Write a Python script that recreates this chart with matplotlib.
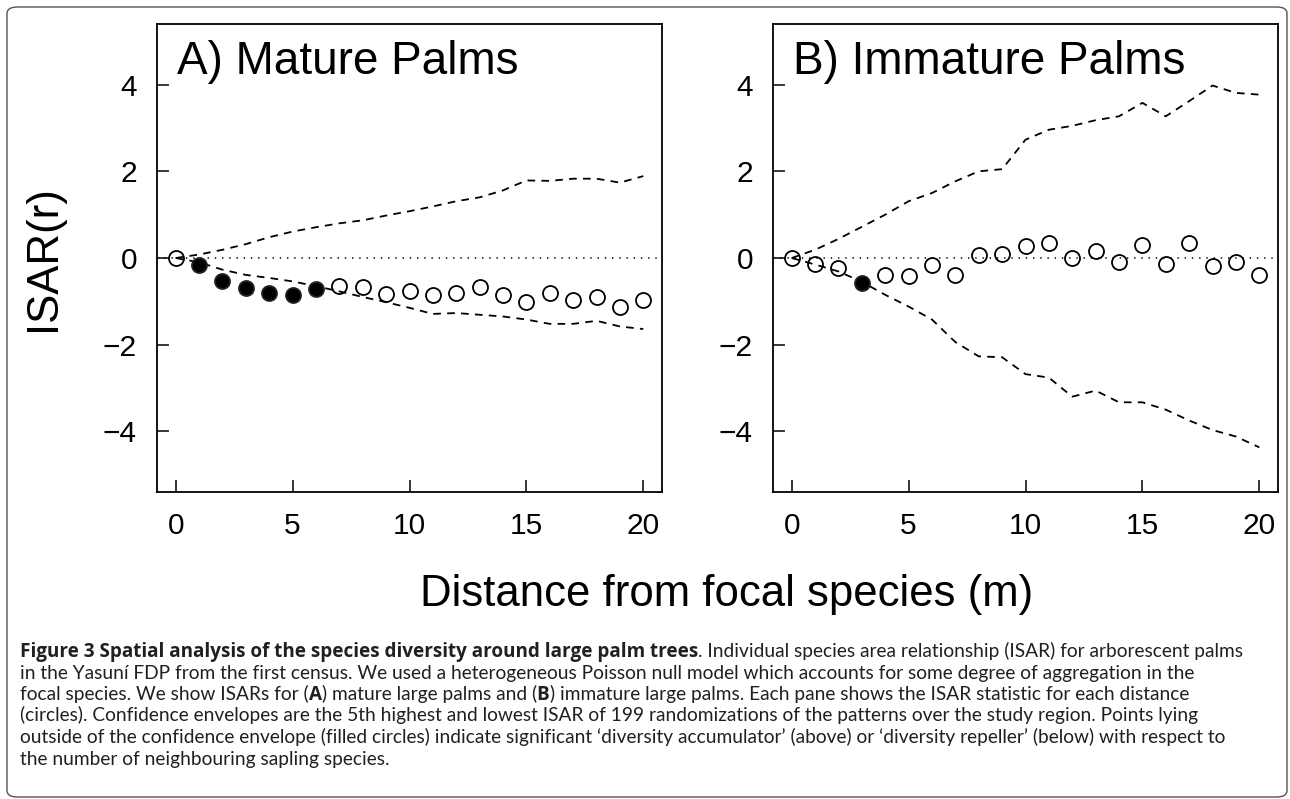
import matplotlib
matplotlib.use('Agg')
import matplotlib.pyplot as plt
from matplotlib import font_manager
from matplotlib.patches import FancyBboxPatch

# ---------------- data ----------------
distance = list(range(21))

mature_isar = [0.0, -0.155, -0.54, -0.69, -0.81, -0.86, -0.72, -0.65, -0.67, -0.83, -0.77,
               -0.85, -0.81, -0.68, -0.85, -1.02, -0.81, -0.98, -0.89, -1.12, -0.96]
mature_sig = [0, 1, 1, 1, 1, 1, 1, 0, 0, 0, 0, 0, 0, 0, 0, 0, 0, 0, 0, 0, 0]
mature_hi = [0.0, 0.08, 0.19, 0.32, 0.48, 0.61, 0.71, 0.80, 0.87, 0.98, 1.08,
             1.19, 1.31, 1.40, 1.56, 1.79, 1.78, 1.83, 1.83, 1.74, 1.89]
mature_lo = [0.0, -0.10, -0.27, -0.39, -0.46, -0.54, -0.65, -0.77, -0.90, -1.02, -1.15,
             -1.29, -1.27, -1.31, -1.35, -1.42, -1.52, -1.52, -1.45, -1.58, -1.64]

immature_isar = [0.0, -0.13, -0.23, -0.58, -0.40, -0.42, -0.17, -0.385, 0.077, 0.10, 0.27,
                 0.35, 0.0, 0.15, -0.09, 0.31, -0.13, 0.35, -0.18, -0.10, -0.385]
immature_sig = [0, 0, 0, 1, 0, 0, 0, 0, 0, 0, 0, 0, 0, 0, 0, 0, 0, 0, 0, 0, 0]
immature_hi = [0.0, 0.19, 0.44, 0.72, 1.00, 1.31, 1.50, 1.77, 2.00, 2.05, 2.73,
               2.96, 3.05, 3.18, 3.27, 3.58, 3.27, 3.62, 3.98, 3.81, 3.77]
immature_lo = [0.0, -0.15, -0.31, -0.55, -0.85, -1.12, -1.42, -1.94, -2.27, -2.29, -2.68,
               -2.76, -3.20, -3.06, -3.33, -3.33, -3.50, -3.75, -3.97, -4.12, -4.37]

xticks = [0, 5, 10, 15, 20]
yticks = [-4, -2, 0, 2, 4]
ytick_labels = ['\u22124', '\u22122', '0', '2', '4']
panel_titles = ["A) Mature Palms", "B) Immature Palms"]
ylabel = "ISAR(r)"
xlabel = "Distance from focal species (m)"

caption_lines = [
    [("Figure 3 Spatial analysis of the species diversity around large palm trees", True),
     (". Individual species area relationship (ISAR) for arborescent palms", False)],
    [("in the Yasuní FDP from the first census. We used a heterogeneous Poisson null model which accounts for some degree of aggregation in the", False)],
    [("focal species. We show ISARs for (", False), ("A", True), (") mature large palms and (", False),
     ("B", True), (") immature large palms. Each pane shows the ISAR statistic for each distance", False)],
    [("(circles). Confidence envelopes are the 5th highest and lowest ISAR of 199 randomizations of the patterns over the study region. Points lying", False)],
    [("outside of the confidence envelope (filled circles) indicate significant \u2018diversity accumulator\u2019 (above) or \u2018diversity repeller\u2019 (below) with respect to", False)],
    [("the number of neighbouring sapling species.", False)],
]
# right end (px) of each caption line in the reference, used to size the caption font
caption_line_ends = [1277, 1213, 1178, 1143, 1272, 410]
caption_bold_end = 698  # end of the bold heading in line 1

# ---------------- figure ----------------
W, H = 1290, 799
DPI = 100
plt.rcParams['font.family'] = ['Liberation Sans', 'DejaVu Sans']
plt.rcParams['lines.scale_dashes'] = False
fig = plt.figure(figsize=(W / DPI, H / DPI), dpi=DPI)


def px_axes(left, top, right, bottom):
    return [left / W, 1 - bottom / H, (right - left) / W, (bottom - top) / H]


axes_px = [(157, 24, 662, 492), (773, 24, 1278, 492)]
datasets = [(mature_isar, mature_sig, mature_hi, mature_lo),
            (immature_isar, immature_sig, immature_hi, immature_lo)]

for i, (box, data, title) in enumerate(zip(axes_px, datasets, panel_titles)):
    isar, sig, hi, lo = data
    ax = fig.add_axes(px_axes(*box))
    ax.set_xlim(-0.8, 20.8)
    ax.set_ylim(-5.4, 5.4)
    ax.axhline(0, color='black', lw=1.1, dashes=(1.0, 4.2), zorder=1)
    ax.plot(distance, hi, color='black', lw=1.3, dashes=(5.5, 4.5), zorder=2)
    ax.plot(distance, lo, color='black', lw=1.3, dashes=(5.5, 4.5), zorder=2)
    xo = [d for d, s in zip(distance, sig) if not s]
    yo = [v for v, s in zip(isar, sig) if not s]
    xf = [d for d, s in zip(distance, sig) if s]
    yf = [v for v, s in zip(isar, sig) if s]
    ax.plot(xo, yo, linestyle='none', marker='o', markersize=10.8, markerfacecolor='none',
            markeredgecolor='black', markeredgewidth=1.3, zorder=3)
    ax.plot(xf, yf, linestyle='none', marker='o', markersize=10.8, markerfacecolor='black',
            markeredgecolor='#222222', markeredgewidth=1.3, zorder=3)
    ax.set_xticks(xticks)
    ax.set_yticks(yticks)
    ax.set_yticklabels(ytick_labels)
    ax.tick_params(direction='in', length=8.3, width=1.1, labelsize=21.5, pad=14.4)
    for sp in ax.spines.values():
        sp.set_linewidth(1.3)
    ax.text(20 / (box[2] - box[0]), 1 - 50 / (box[3] - box[1]), title, transform=ax.transAxes,
            fontsize=33, ha='left', va='baseline')
    if i == 0:
        ax.set_ylabel(ylabel, fontsize=31.5, labelpad=28)

fig.text(727 / W, 1 - 606 / H, xlabel, fontsize=31.5, ha='center', va='baseline')

# border
border = FancyBboxPatch((7 / W, 2 / H), (1287 - 7) / W, (792 - 2) / H,
                        boxstyle='round,pad=0,rounding_size=0.008', transform=fig.transFigure,
                        facecolor='none', edgecolor='#555555', lw=1.0)
fig.patches.append(border)

# caption fonts
avail = {f.name for f in font_manager.fontManager.ttflist}
reg_font = 'Lato' if 'Lato' in avail else 'Roboto'
bold_font = 'Open Sans' if 'Open Sans' in avail else reg_font

fig.canvas.draw()
renderer = fig.canvas.get_renderer()


def seg_width(txt, bold, size):
    t = fig.text(0, 0, txt, fontsize=size, family=bold_font if bold else reg_font,
                 fontweight='bold' if bold else 'normal')
    w = t.get_window_extent(renderer).width
    t.remove()
    return w


# bold size: heading of line 1 spans 20 .. caption_bold_end
bold_size = 10 * (caption_bold_end - 20) / seg_width(caption_lines[0][0][0], True, 10)

# regular size: least squares over all lines given the bold widths
num = 0.0
den = 0.0
for segs, end in zip(caption_lines, caption_line_ends):
    rw = sum(seg_width(t, b, 10) for t, b in segs if not b)
    bw = sum(seg_width(t, b, bold_size) for t, b in segs if b)
    target = end - 20 - bw
    num += rw * target
    den += rw * rw
reg_size = 10 * num / den

baselines = [657, 678.5, 700, 721.5, 743, 764.5]
for segs, yb in zip(caption_lines, baselines):
    x = 20.0
    for txt, bold in segs:
        t = fig.text(x / W, 1 - yb / H, txt,
                     fontsize=bold_size if bold else reg_size,
                     family=bold_font if bold else reg_font,
                     fontweight='bold' if bold else 'normal', ha='left', va='baseline',
                     color='#231f20')
        x += t.get_window_extent(renderer).width

fig.savefig('out.png', dpi=DPI)
